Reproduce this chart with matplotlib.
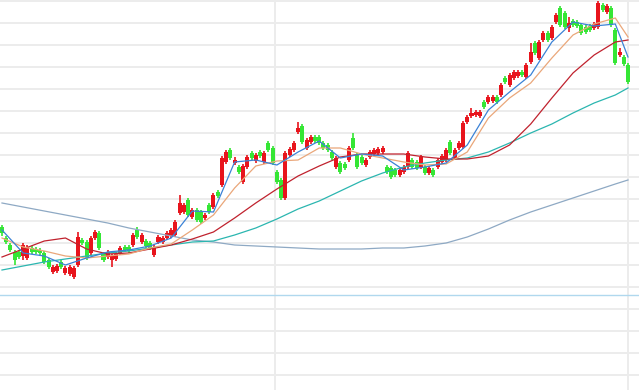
import numpy as np
import matplotlib
matplotlib.use("Agg")
import matplotlib.pyplot as plt

# daily candles (price units)
opens = [17.3, 16.2, 15.5, 14.8, 14.8, 14.4, 14.2, 15.2, 15.1, 15.0,
         14.7, 14.0, 12.8, 12.9, 13.8, 12.7, 12.6, 12.3, 13.5, 16.0,
         15.8, 14.7, 16.2, 16.7, 14.6, 14.3, 14.0, 14.1, 14.7, 15.3,
         15.3, 15.5, 17.0, 15.8, 15.9, 15.7, 14.5, 15.8, 15.8, 16.2,
         16.4, 16.5, 18.7, 18.8, 20.0, 18.3, 19.0, 18.8, 18.2, 19.5,
         19.3, 20.8, 21.5, 23.8, 25.0, 23.7, 23.3, 21.8, 23.3, 24.7,
         23.9, 24.8, 23.8, 25.7, 25.2, 22.8, 22.0, 20.2, 24.5, 25.0,
         26.8, 27.4, 25.2, 25.8, 26.3, 26.3, 25.7, 25.5, 24.8, 23.3,
         23.7, 23.6, 24.0, 26.2, 24.5, 24.3, 23.5, 24.3, 24.6, 24.7,
         24.8, 23.3, 23.2, 23.0, 22.5, 22.8, 23.3, 24.0, 23.8, 23.3,
         23.3, 22.7, 23.0, 23.3, 23.8, 24.0, 25.8, 24.2, 25.2, 25.3,
         27.8, 28.4, 28.5, 28.4, 29.8, 29.8, 29.9, 30.3, 30.5, 32.2,
         31.5, 32.2, 32.4, 32.8, 32.3, 33.8, 35.7, 34.2, 36.0, 36.7,
         36.2, 37.8, 39.2, 38.7, 37.2, 37.9, 37.8, 37.5, 37.3, 37.4,
         37.2, 37.3, 39.5, 38.8, 39.2, 37.0, 34.5, 34.3, 33.5]
highs = [17.5, 16.4, 15.7, 15.0, 15.0, 15.7, 15.5, 15.4, 15.3, 15.2,
         14.9, 14.2, 13.5, 13.6, 14.0, 13.4, 13.5, 13.4, 16.8, 16.2,
         16.0, 16.4, 17.0, 16.9, 14.8, 15.0, 14.6, 14.8, 15.4, 15.5,
         15.5, 16.7, 17.3, 16.7, 16.1, 15.9, 15.5, 16.5, 16.4, 16.9,
         17.2, 18.0, 20.5, 19.7, 20.2, 19.2, 19.2, 19.0, 18.7, 19.7,
         20.7, 21.0, 24.4, 25.0, 25.2, 24.3, 23.5, 23.6, 24.5, 24.9,
         24.7, 25.0, 24.9, 25.9, 25.4, 23.0, 22.2, 24.9, 25.3, 25.9,
         27.8, 27.6, 26.2, 26.5, 26.5, 26.5, 25.9, 25.7, 25.0, 24.4,
         23.9, 23.8, 25.4, 26.7, 24.7, 24.5, 24.2, 25.0, 25.2, 25.3,
         25.4, 23.5, 23.4, 23.2, 23.2, 23.5, 24.9, 24.2, 24.0, 24.5,
         23.5, 23.4, 23.2, 24.2, 24.6, 25.2, 26.0, 25.2, 25.9, 27.9,
         28.5, 29.2, 29.0, 29.0, 30.0, 30.5, 30.5, 30.5, 31.7, 32.4,
         32.7, 33.0, 33.0, 33.0, 33.7, 35.7, 35.9, 36.0, 36.9, 36.9,
         37.5, 38.7, 39.4, 38.9, 38.3, 38.1, 38.0, 37.7, 37.5, 37.6,
         37.8, 39.9, 39.7, 39.6, 39.4, 37.2, 35.2, 34.5, 33.7]
lows = [16.4, 15.6, 14.8, 13.5, 14.1, 14.0, 14.0, 14.6, 14.6, 14.4,
        13.6, 13.1, 12.6, 12.7, 13.1, 12.5, 12.4, 12.1, 13.3, 15.5,
        14.0, 14.5, 16.0, 15.0, 13.8, 14.1, 13.3, 13.9, 14.5, 14.8,
        14.7, 15.3, 16.1, 15.6, 15.2, 15.0, 14.3, 15.6, 15.6, 16.0,
        16.2, 16.3, 18.5, 18.6, 18.3, 18.1, 17.8, 17.6, 18.0, 18.6,
        19.1, 20.2, 21.3, 23.6, 24.0, 23.5, 22.6, 21.6, 23.1, 24.0,
        23.7, 24.2, 23.6, 24.8, 23.5, 21.6, 20.0, 20.0, 24.3, 24.8,
        26.6, 25.6, 25.0, 25.6, 25.7, 25.5, 25.0, 24.8, 24.0, 23.1,
        22.6, 23.0, 23.8, 25.0, 23.1, 23.5, 23.3, 24.1, 24.4, 24.5,
        24.6, 22.6, 22.1, 22.3, 22.3, 22.6, 23.1, 23.1, 23.0, 23.1,
        22.5, 22.5, 22.3, 23.1, 23.6, 23.8, 24.5, 24.0, 25.0, 25.1,
        27.6, 28.2, 28.3, 28.2, 29.1, 29.6, 29.7, 29.6, 30.3, 31.6,
        31.3, 32.0, 32.2, 32.3, 32.1, 33.6, 34.5, 34.0, 35.8, 35.8,
        36.0, 37.6, 37.3, 37.1, 36.8, 37.3, 37.2, 36.5, 36.6, 36.8,
        37.0, 37.1, 38.8, 38.6, 37.3, 33.5, 34.3, 33.4, 31.6]
closes = [16.7, 15.8, 15.0, 14.0, 14.3, 15.5, 15.3, 14.8, 14.8, 14.7,
          13.8, 13.3, 13.3, 13.4, 13.3, 13.2, 13.3, 13.2, 16.3, 15.7,
          14.2, 16.2, 16.8, 15.2, 14.0, 14.8, 14.4, 14.6, 15.2, 15.0,
          14.9, 16.5, 16.3, 16.5, 15.4, 15.2, 15.3, 16.3, 16.2, 16.7,
          17.0, 17.8, 19.7, 19.5, 18.5, 19.0, 18.0, 17.8, 18.5, 18.8,
          20.5, 20.4, 24.2, 24.8, 24.2, 24.0, 22.8, 23.4, 24.3, 24.2,
          24.5, 24.4, 24.7, 25.0, 23.7, 21.8, 20.2, 24.7, 25.1, 25.7,
          27.2, 25.8, 26.0, 26.3, 25.9, 25.7, 25.2, 25.0, 24.2, 24.2,
          22.8, 23.2, 25.2, 25.2, 23.3, 23.7, 24.0, 24.8, 25.0, 25.1,
          25.2, 22.8, 22.3, 22.5, 23.0, 23.3, 24.7, 23.3, 23.2, 24.3,
          22.7, 23.2, 22.5, 24.0, 24.4, 25.0, 24.7, 25.0, 25.7, 27.7,
          28.3, 28.7, 28.8, 28.8, 29.3, 30.3, 30.3, 29.8, 31.5, 31.8,
          32.5, 32.8, 32.8, 32.5, 33.5, 34.8, 34.7, 35.8, 36.7, 36.0,
          37.3, 38.5, 37.5, 37.3, 37.7, 37.5, 37.4, 36.7, 36.8, 37.0,
          37.6, 39.7, 39.0, 39.4, 37.5, 33.7, 34.8, 33.6, 31.8]

# moving averages at these candle indices
ma_idx = [0, 5, 10, 15, 20, 25, 30, 35, 40, 45, 50, 55, 60, 65, 70, 75,
          80, 85, 90, 95, 100, 105, 110, 115, 120, 125, 130, 135, 140, 145, 148]
ma5 = [17.0, 14.7, 14.4, 13.5, 14.2, 14.8, 15.0, 15.4, 16.2, 18.9, 18.8,
       23.8, 24.0, 23.5, 24.8, 25.9, 24.2, 24.6, 24.4, 23.0, 23.3, 23.7,
       25.5, 29.0, 30.8, 32.5, 35.8, 37.8, 37.4, 37.6, 34.3]
ma10 = [16.2, 15.3, 14.9, 14.4, 14.2, 14.4, 14.6, 15.2, 15.6, 17.0, 18.5,
        21.2, 23.4, 23.9, 24.0, 25.2, 25.2, 24.6, 24.2, 23.8, 23.5, 23.6,
        24.8, 28.2, 30.2, 31.7, 34.2, 36.5, 37.6, 38.2, 36.3]
ma20 = [14.3, 15.1, 15.9, 16.2, 15.1, 14.6, 14.7, 15.1, 15.5, 16.1, 16.8,
        18.2, 19.7, 21.1, 22.4, 23.4, 24.3, 24.6, 24.6, 24.6, 24.3, 24.1,
        24.1, 24.4, 25.5, 27.6, 30.2, 32.7, 34.5, 35.8, 36.0]
ma60 = [13.0, 13.4, 13.8, 14.1, 14.4, 14.7, 14.9, 15.2, 15.5, 15.8, 15.9,
        16.5, 17.2, 18.1, 19.1, 19.9, 20.9, 21.9, 22.7, 23.3, 23.7, 24.0,
        24.2, 24.8, 25.7, 26.7, 27.6, 28.7, 29.7, 30.5, 31.2]
ma250 = [19.7, 19.3, 18.9, 18.5, 18.1, 17.7, 17.2, 16.8, 16.4, 16.0, 15.8,
         15.5, 15.4, 15.3, 15.2, 15.1, 15.1, 15.1, 15.2, 15.2, 15.4, 15.7,
         16.3, 17.1, 18.0, 18.8, 19.5, 20.2, 20.9, 21.6, 22.0]
ref_level = 10.5

UP = '#e8141c'
DOWN = '#35e635'

fig = plt.figure(figsize=(6.39, 3.90), dpi=100)
ax = fig.add_axes([0, 0, 1, 1])
ax.set_xlim(-0.47, 150.6)
ax.set_ylim(1.0, 40.0)
ax.axis('off')

# background grid
for y in np.arange(39.87, 0, -2.2):
    ax.axhline(y, color='#ececec', lw=1.4, zorder=0)
for x in [64.5, 148.0]:
    ax.axvline(x, color='#ececec', lw=1.4, zorder=0)
ax.axhline(ref_level, color='#b0d8ee', lw=1.0, zorder=1)

# candles
idx = np.arange(len(closes))
o = np.array(opens)
c = np.array(closes)
colors = [UP if cc >= oo else DOWN for oo, cc in zip(o, c)]
ax.vlines(idx, lows, highs, colors=colors, lw=1.2, zorder=2)
body = np.maximum(np.abs(c - o), 0.25)
ax.bar(idx, body, bottom=np.minimum(o, c), width=0.95, color=colors,
       lw=0, zorder=3)

# moving averages
ax.plot(ma_idx, ma250, color='#8ea9c4', lw=0.9, zorder=4)
ax.plot(ma_idx, ma60, color='#2bb6b0', lw=0.9, zorder=4)
ax.plot(ma_idx, ma20, color='#c0222e', lw=0.9, zorder=4)
ax.plot(ma_idx, ma10, color='#eaa77a', lw=0.9, zorder=4)
ax.plot(ma_idx, ma5, color='#3b82d6', lw=0.9, zorder=4)

fig.savefig('out.png', dpi=100)
